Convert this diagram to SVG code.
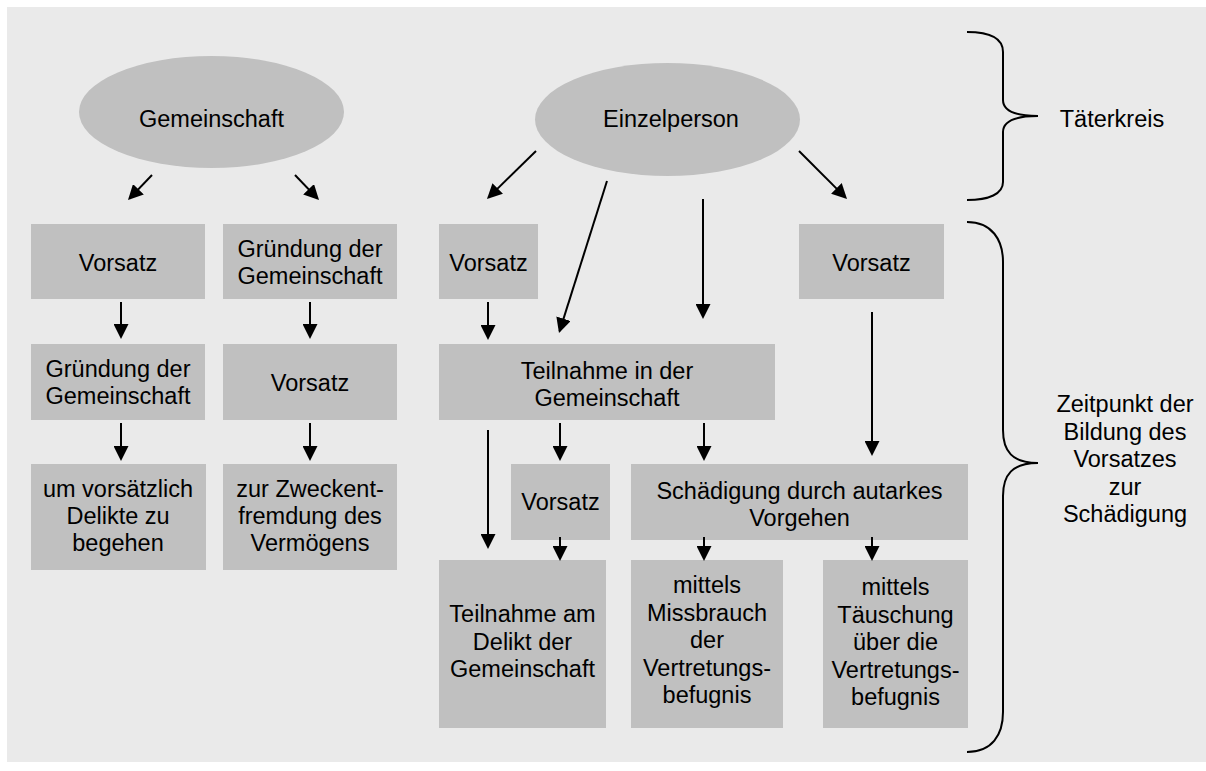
<svg xmlns="http://www.w3.org/2000/svg" width="1206" height="771" viewBox="0 0 1206 771">
<style>
.bg{fill:#eaeaea}
.box{fill:#c0c0c0}
.t{font-family:"Liberation Sans",Arial,sans-serif;font-size:23.5px;fill:#000;text-anchor:middle}
.ln{stroke:#000;stroke-width:2;fill:none}
.br{stroke:#000;stroke-width:2;fill:none}
</style>
<defs>
<marker id="ah" markerUnits="userSpaceOnUse" markerWidth="15" markerHeight="15" viewBox="0 0 15 15" refX="13" refY="7.5" orient="auto">
<path d="M0,0 L15,7.5 L0,15 z" fill="#000"/>
</marker>
</defs>
<rect class="bg" x="7" y="7" width="1199" height="755"/>

<g id="n-gemeinschaft"><ellipse class="box" cx="211.5" cy="112" rx="132.5" ry="56"/><text class="t" x="211.5" y="127">Gemeinschaft</text></g>
<g id="n-einzelperson"><ellipse class="box" cx="667.5" cy="119.5" rx="132.5" ry="56.5"/><text class="t" x="671" y="127">Einzelperson</text></g>

<g id="n-l1"><rect class="box" x="31" y="224" width="174" height="75"/><text class="t" x="118" y="270.5">Vorsatz</text></g>
<g id="n-l2"><rect class="box" x="31" y="344" width="174" height="76"/><text class="t" x="118" y="377">Gründung der</text><text class="t" x="118" y="404">Gemeinschaft</text></g>
<g id="n-l3"><rect class="box" x="31" y="464" width="175" height="106"/><text class="t" x="118" y="497">um vorsätzlich</text><text class="t" x="118" y="524">Delikte zu</text><text class="t" x="118" y="551">begehen</text></g>

<g id="n-m1"><rect class="box" x="223" y="224" width="174" height="75"/><text class="t" x="310" y="257">Gründung der</text><text class="t" x="310" y="284">Gemeinschaft</text></g>
<g id="n-m2"><rect class="box" x="223" y="344" width="174" height="76"/><text class="t" x="310" y="391">Vorsatz</text></g>
<g id="n-m3"><rect class="box" x="223" y="464" width="174" height="106"/><text class="t" x="310" y="497">zur Zweckent-</text><text class="t" x="310" y="524">fremdung des</text><text class="t" x="310" y="551">Vermögens</text></g>

<g id="n-r1"><rect class="box" x="439" y="224" width="99" height="75"/><text class="t" x="488.5" y="270.5">Vorsatz</text></g>
<g id="n-r2"><rect class="box" x="439" y="344" width="336" height="76"/><text class="t" x="607" y="379">Teilnahme in der</text><text class="t" x="607" y="406">Gemeinschaft</text></g>
<g id="n-r3"><rect class="box" x="799" y="224" width="145" height="75"/><text class="t" x="871.5" y="270.5">Vorsatz</text></g>
<g id="n-r4"><rect class="box" x="511" y="464" width="99" height="76"/><text class="t" x="560.5" y="510">Vorsatz</text></g>
<g id="n-r5"><rect class="box" x="631" y="464" width="337" height="76"/><text class="t" x="799.5" y="498.5">Schädigung durch autarkes</text><text class="t" x="799.5" y="526">Vorgehen</text></g>
<g id="n-r6"><rect class="box" x="439" y="560" width="167" height="168"/><text class="t" x="522.5" y="622">Teilnahme am</text><text class="t" x="522.5" y="649.5">Delikt der</text><text class="t" x="522.5" y="677">Gemeinschaft</text></g>
<g id="n-r7"><rect class="box" x="631" y="560" width="152" height="168"/><text class="t" x="707" y="593">mittels</text><text class="t" x="707" y="620.5">Missbrauch</text><text class="t" x="707" y="648">der</text><text class="t" x="707" y="675.5">Vertretungs-</text><text class="t" x="707" y="703">befugnis</text></g>
<g id="n-r8"><rect class="box" x="823" y="560" width="145" height="168"/><text class="t" x="895.5" y="595">mittels</text><text class="t" x="895.5" y="622.5">Täuschung</text><text class="t" x="895.5" y="650">über die</text><text class="t" x="895.5" y="677.5">Vertretungs-</text><text class="t" x="895.5" y="705">befugnis</text></g>

<g id="connectors">
<path class="ln" d="M152,175 L129.4,198.6" marker-end="url(#ah)"/>
<path class="ln" d="M295,175 L317.6,198.6" marker-end="url(#ah)"/>
<path class="ln" d="M121,302 L121,337" marker-end="url(#ah)"/>
<path class="ln" d="M310,302 L310,337" marker-end="url(#ah)"/>
<path class="ln" d="M121,423 L121,459" marker-end="url(#ah)"/>
<path class="ln" d="M310,423 L310,459" marker-end="url(#ah)"/>
<path class="ln" d="M536,151 L488.4,197.6" marker-end="url(#ah)"/>
<path class="ln" d="M607,181 L559.6,331.1" marker-end="url(#ah)"/>
<path class="ln" d="M703,199 L703,317" marker-end="url(#ah)"/>
<path class="ln" d="M799,151 L845.6,197.6" marker-end="url(#ah)"/>
<path class="ln" d="M488,302 L488,338" marker-end="url(#ah)"/>
<path class="ln" d="M872,312 L872,454" marker-end="url(#ah)"/>
<path class="ln" d="M488,430 L488,547" marker-end="url(#ah)"/>
<path class="ln" d="M560,423 L560,459" marker-end="url(#ah)"/>
<path class="ln" d="M704,423 L704,459" marker-end="url(#ah)"/>
<path class="ln" d="M560,537 L560,559" marker-end="url(#ah)"/>
<path class="ln" d="M704,537 L704,559" marker-end="url(#ah)"/>
<path class="ln" d="M872,537 L872,559" marker-end="url(#ah)"/>
</g>

<g id="brace-taeterkreis">
<path class="br" d="M967,32 C989,32 1003,38 1003,52 L1003,100 C1003,110 1012,116 1038,116 C1012,116 1003,122 1003,132 L1003,182 C1003,194 989,200 967,200"/>
<text class="t" x="1112" y="126.5">Täterkreis</text>
</g>
<g id="brace-zeitpunkt">
<path class="br" d="M967,222 C992,222 1003,240 1003,262 L1003,430 C1003,451 1012,463 1038,463 C1012,463 1003,475 1003,496 L1003,712 C1003,735 992,752 967,752"/>
<text class="t" x="1125" y="412">Zeitpunkt der</text>
<text class="t" x="1125" y="439.5">Bildung des</text>
<text class="t" x="1125" y="467">Vorsatzes</text>
<text class="t" x="1125" y="494.5">zur</text>
<text class="t" x="1125" y="522">Schädigung</text>
</g>
</svg>
